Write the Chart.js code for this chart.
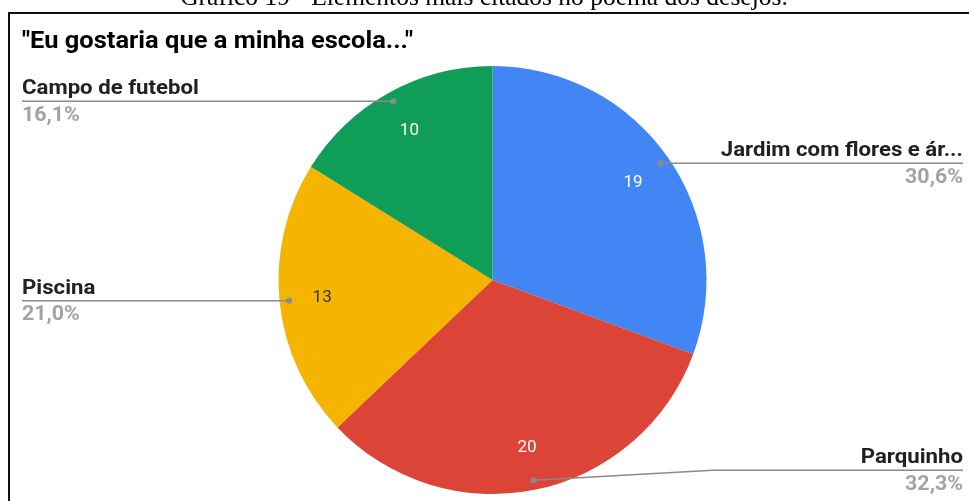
<!DOCTYPE html>
<html>
<head>
<meta charset="utf-8">
<script src="https://cdn.jsdelivr.net/npm/chart.js@4/dist/chart.umd.min.js"></script>
<style>
  html, body { margin: 0; padding: 0; background: #fff; }
  #wrap { position: relative; width: 969px; height: 501px; overflow: hidden; }
  canvas { display: block; }
</style>
</head>
<body>
<div id="wrap"><canvas id="chart" width="969" height="501"></canvas></div>
<script>
// Items chosen in the "wishes" poem
const categories = ['Jardim com flores e árvores', 'Parquinho', 'Piscina', 'Campo de futebol'];
const shortNames = ['Jardim com flores e ár...', 'Parquinho', 'Piscina', 'Campo de futebol'];
const counts = [19, 20, 13, 10];
const percentLabels = ['30,6%', '32,3%', '21,0%', '16,1%'];
const sliceColors = ['#4285F4', '#DB4437', '#F4B400', '#0F9D58'];
const valueColors = ['#ffffff', '#ffffff', '#333333', '#ffffff'];
const captionText = 'Gráfico 19 - Elementos mais citados no poema dos desejos.';
const titleText = '"Eu gostaria que a minha escola..."';

// Which side each outside label sits on
const labelSide = ['right', 'right', 'left', 'left'];

// Draw text stretched horizontally, anchored at its left or right end
function wideText(ctx, text, x, y, sx, alignRight) {
  const w = ctx.measureText(text).width * sx;
  ctx.save();
  ctx.textAlign = 'left';
  ctx.translate(alignRight ? x - w : x, y);
  ctx.scale(sx, 1);
  ctx.fillText(text, 0, 0);
  ctx.restore();
}

const framePlugin = {
  id: 'frameAndLabels',
  beforeDraw(chart) {
    const ctx = chart.ctx;
    ctx.save();
    ctx.fillStyle = '#fff';
    ctx.fillRect(0, 0, chart.width, chart.height);
    // caption above the frame (partly out of view)
    ctx.fillStyle = '#000';
    ctx.font = '25.5px "Liberation Serif"';
    ctx.textAlign = 'center';
    ctx.textBaseline = 'alphabetic';
    ctx.fillText(captionText, 484, 5);
    // frame
    ctx.strokeStyle = '#111';
    ctx.lineWidth = 2;
    ctx.beginPath();
    ctx.moveTo(9, chart.height + 5);
    ctx.lineTo(9, 13);
    ctx.lineTo(chart.width + 5, 13);
    ctx.stroke();
    // chart title
    ctx.fillStyle = '#000';
    ctx.font = 'bold 21px Roboto';
    ctx.textAlign = 'left';
    ctx.save();
    const w = ctx.measureText(titleText).width;
    const sx = 391 / w;
    ctx.translate(22, 48);
    ctx.scale(sx, 1.1);
    ctx.fillText(titleText, 0, 0);
    ctx.restore();
    ctx.restore();
  },
  afterDatasetsDraw(chart) {
    const ctx = chart.ctx;
    const meta = chart.getDatasetMeta(0);
    ctx.save();
    meta.data.forEach((arc, i) => {
      const mid = (arc.startAngle + arc.endAngle) / 2;
      const R = arc.outerRadius;
      // value inside the slice
      const vr = R * 0.8;
      ctx.fillStyle = valueColors[i];
      ctx.font = '17px Roboto';
      ctx.textAlign = 'center';
      ctx.textBaseline = 'middle';
      ctx.fillText(String(counts[i]), arc.x + Math.cos(mid) * vr, arc.y + Math.sin(mid) * vr + 0.5);

      // leader line with dot
      const dr = R * 0.955;
      const dx = arc.x + Math.cos(mid) * dr;
      const dy = arc.y + Math.sin(mid) * dr;
      const right = labelSide[i] === 'right';
      const endX = right ? 963 : 22;
      let lineY = dy;
      ctx.strokeStyle = '#8a8a8a';
      ctx.lineWidth = 1.5;
      ctx.beginPath();
      ctx.moveTo(dx, dy);
      if (dy > 440) {
        // bottom slice: label line bends up to clear the pie edge
        lineY = dy - 10;
        ctx.lineTo(713, lineY);
      }
      ctx.lineTo(endX, lineY);
      ctx.stroke();
      ctx.fillStyle = '#8a8a8a';
      ctx.beginPath();
      ctx.arc(dx, dy, 3, 0, Math.PI * 2);
      ctx.fill();

      // category name and share
      ctx.textBaseline = 'alphabetic';
      ctx.font = 'bold 20px Roboto';
      ctx.fillStyle = '#212121';
      wideText(ctx, shortNames[i], endX, lineY - 7, 1.11, right);
      ctx.fillStyle = '#a3a3a3';
      wideText(ctx, percentLabels[i], endX, lineY + 19.5, 1.07, right);
    });
    ctx.restore();
  }
};

new Chart(document.getElementById('chart'), {
  type: 'pie',
  data: {
    labels: categories,
    datasets: [{
      data: counts,
      backgroundColor: sliceColors,
      borderWidth: 0
    }]
  },
  options: {
    responsive: false,
    animation: false,
    layout: { padding: { top: 66, bottom: 7, left: 200, right: 184 } },
    plugins: {
      legend: { display: false },
      tooltip: { enabled: false },
      title: { display: false }
    }
  },
  plugins: [framePlugin]
});
</script>
</body>
</html>
